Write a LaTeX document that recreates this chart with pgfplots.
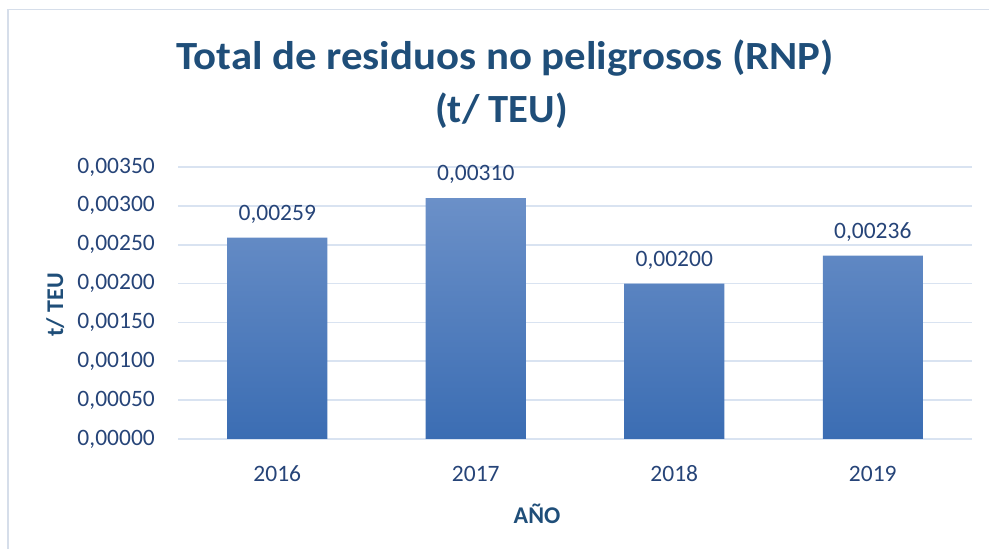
\documentclass[border=0pt]{standalone}
\usepackage{fontspec}
\setmainfont{Carlito}
\usepackage{pgfplots}
\pgfplotsset{compat=1.18}
\definecolor{titleblue}{HTML}{1F4E79}
\definecolor{tickblue}{HTML}{264478}
\definecolor{gridc}{HTML}{D9E3F1}
\definecolor{bartop}{HTML}{6B90C8}
\definecolor{barbot}{HTML}{3B6DB3}
\definecolor{framec}{HTML}{D6DEEA}
\tikzset{
  nfmt/.style={/pgf/number format/fixed, /pgf/number format/fixed zerofill, /pgf/number format/precision=5, /pgf/number format/use comma, /pgf/number format/assume math mode=true},
}
\begin{document}
\begin{tikzpicture}[x=1pt,y=1pt]
\useasboundingbox (0,0) rectangle (989,549);
\draw[framec, line width=1.2pt] (8,0) -- (8,539.5) -- (989,539.5);
\begin{axis}[
  at={(178pt,110pt)}, anchor=south west,
  scale only axis, width=794pt, height=272pt,
  xmin=-0.5, xmax=3.5, ymin=0, ymax=0.0035,
  ytick={0,0.0005,0.001,0.0015,0.002,0.0025,0.003,0.0035},
  xtick={0,1,2,3}, xticklabels={2016,2017,2018,2019},
  axis line style={draw=none}, tick style={draw=none},
  ymajorgrids, grid style={gridc, line width=1.6pt},
  scaled y ticks=false,
  /pgf/number format/assume math mode=true,
  yticklabel style={nfmt, font=\fontsize{23.5}{27}\selectfont, text=tickblue, inner sep=0pt, anchor=east, xshift=-23pt},
  xticklabel style={font=\fontsize{23.5}{27}\selectfont, text=tickblue, inner sep=0pt, anchor=north, text height=15pt, text depth=0pt, yshift=-23pt},
  ybar, bar width=100pt,
  nodes near coords,
  every node near coord/.append style={nfmt, font=\fontsize{23.5}{27}\selectfont, text=tickblue, inner sep=0pt, anchor=south, yshift=14pt},
  clip=false,
]
\addplot[draw=none, top color=bartop, bottom color=barbot] coordinates {(0,0.00259) (1,0.00310) (2,0.00200) (3,0.00236)};
\end{axis}
\node[anchor=base, text=titleblue, font=\fontsize{40}{47}\selectfont\bfseries] at (505,479) {\scalebox{1.07}[1]{Total de residuos no peligrosos (RNP)}};
\node[anchor=base, text=titleblue, font=\fontsize{40}{47}\selectfont\bfseries] at (501.5,426) {\scalebox{1.015}[1]{(t/ TEU)}};
\node[anchor=base, rotate=90, text=titleblue, font=\fontsize{24}{28}\selectfont\bfseries] at (63,244) {t/ TEU};
\node[anchor=base, text=titleblue, font=\fontsize{24}{28}\selectfont\bfseries] at (537,25) {AÑO};
\end{tikzpicture}
\end{document}
